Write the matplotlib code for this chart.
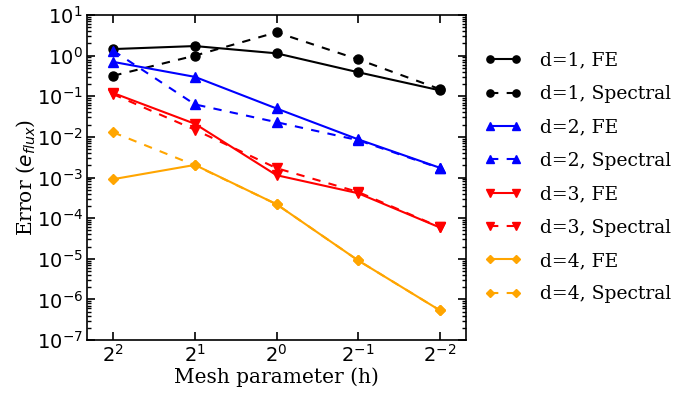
import numpy as np
import matplotlib
matplotlib.use('Agg')
import matplotlib.pyplot as plt
from matplotlib.ticker import FixedLocator, NullFormatter, NullLocator

h = [4, 2, 1, 0.5, 0.25]

d1_fe = [1.45, 1.72, 1.14, 0.39, 0.14]
d1_sp = [0.32, 1.0, 3.75, 0.81, 0.15]
d2_fe = [0.70, 0.30, 0.050, 0.0087, 0.00174]
d2_sp = [1.32, 0.063, 0.023, 0.0083, 0.0017]
d3_fe = [0.12, 0.021, 0.00114, 0.00041, 5.9e-5]
d3_sp = [0.112, 0.015, 0.0017, 0.00044, 6.0e-5]
d4_fe = [0.00091, 0.00204, 0.00022, 9.1e-6, 5.4e-7]
d4_sp = [0.0129, 0.0020, 0.00022, 9.1e-6, 5.4e-7]

fs = 14.5
plt.rcParams['mathtext.fontset'] = 'dejavusans'

fig = plt.figure(figsize=(6.83, 3.99), dpi=100)
ax = fig.add_axes([87/683, 1-340/399, 379/683, 325/399])

series = [(d1_fe, d1_sp, 'black', 'o', 1),
          (d2_fe, d2_sp, 'blue', '^', 2),
          (d3_fe, d3_sp, 'red', 'v', 3),
          (d4_fe, d4_sp, 'orange', 'D', 4)]
for fe, sp, clr, mk, d in series:
    ms = 5.5 if mk == 'D' else 6.5
    ax.plot(h, fe, color=clr, marker=mk, markersize=ms, linewidth=1.5,
            markeredgecolor=clr, label='d=%d, FE' % d)
    ax.plot(h, sp, color=clr, marker=mk, markersize=ms, linewidth=1.5,
            dashes=(4, 4), markeredgecolor=clr, label='d=%d, Spectral' % d)

ax.set_xscale('log', base=2)
ax.set_yscale('log')
ax.set_xlim(5, 0.2)
ax.set_ylim(1e-7, 1e1)
ax.set_xticks(h)
ax.set_yticks([10.0**k for k in range(-7, 2)])
minor = [m * 10.0**k for k in range(-7, 1) for m in range(2, 10)]
ax.yaxis.set_minor_locator(FixedLocator(minor))
ax.yaxis.set_minor_formatter(NullFormatter())
ax.xaxis.set_minor_locator(NullLocator())
ax.tick_params(which='both', direction='in', top=True, right=True, labelsize=14)
ax.tick_params(which='major', length=6, width=1.2, pad=3)
ax.tick_params(which='minor', length=3, width=1)
for s in ax.spines.values():
    s.set_linewidth(1.2)

ax.set_xlabel('Mesh parameter (h)', fontsize=fs, family='DejaVu Serif', labelpad=1)
ax.set_ylabel(r'Error ($e_{flux}$)', fontsize=fs, family='DejaVu Serif', labelpad=0)

leg = ax.legend(loc='center left', bbox_to_anchor=(1.003, 0.5), frameon=False,
                prop={'family': 'DejaVu Serif', 'size': 13.5}, labelspacing=0.82,
                numpoints=2, handlelength=2.0, handletextpad=1.0, markerscale=0.8)

plt.savefig('out.png', dpi=100)
plt.close()
